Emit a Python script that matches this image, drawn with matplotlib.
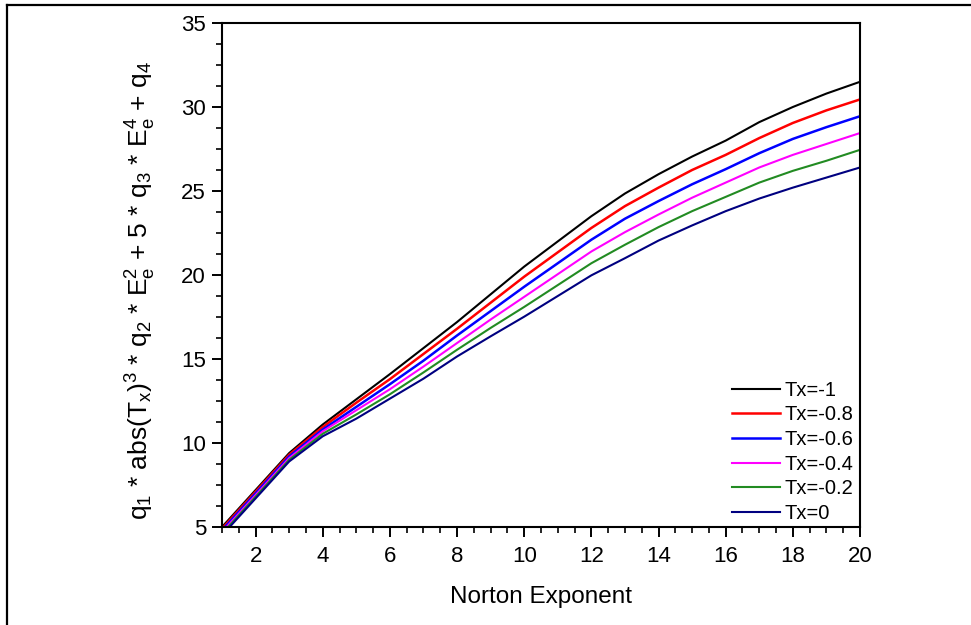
import numpy as np
import matplotlib
matplotlib.use("Agg")
import matplotlib.pyplot as plt
from matplotlib.ticker import MultipleLocator
from matplotlib.lines import Line2D

plt.rcParams['font.family'] = ['Liberation Sans', 'DejaVu Sans']
plt.rcParams['mathtext.fontset'] = 'custom'
plt.rcParams['mathtext.rm'] = 'Liberation Sans'
plt.rcParams['mathtext.it'] = 'Liberation Sans'
plt.rcParams['mathtext.bf'] = 'Liberation Sans:bold'

# Norton exponent
n_exp = [1, 2, 3, 4, 5, 6, 7, 8, 9, 10, 11, 12, 13, 14, 15, 16, 17, 18, 19, 20]

# curves, one per Tx value
tx_m10 = [5.0, 7.2, 9.4, 11.1, 12.6, 14.1, 15.65, 17.2, 18.85, 20.5,
          22.0, 23.5, 24.85, 26.0, 27.05, 28.0, 29.1, 30.0, 30.8, 31.5]
tx_m08 = [4.9, 7.1, 9.3, 10.95, 12.4, 13.8, 15.3, 16.8, 18.35, 19.9,
          21.35, 22.8, 24.1, 25.2, 26.25, 27.15, 28.15, 29.05, 29.8, 30.45]
tx_m06 = [4.8, 7.0, 9.2, 10.8, 12.15, 13.5, 14.9, 16.4, 17.85, 19.3,
          20.7, 22.1, 23.35, 24.4, 25.4, 26.3, 27.25, 28.1, 28.8, 29.45]
tx_m04 = [4.7, 6.9, 9.1, 10.7, 11.95, 13.2, 14.55, 15.95, 17.35, 18.7,
          20.05, 21.4, 22.55, 23.6, 24.6, 25.5, 26.4, 27.15, 27.8, 28.45]
tx_m02 = [4.6, 6.8, 9.0, 10.55, 11.7, 12.9, 14.2, 15.55, 16.85, 18.1,
          19.4, 20.7, 21.8, 22.85, 23.8, 24.65, 25.5, 26.2, 26.8, 27.45]
tx_0 = [4.5, 6.7, 8.9, 10.4, 11.45, 12.64, 13.83, 15.15, 16.35, 17.52,
        18.75, 19.98, 21.0, 22.05, 22.95, 23.8, 24.55, 25.2, 25.8, 26.4]

labels = ["Tx=-1", "Tx=-0.8", "Tx=-0.6", "Tx=-0.4", "Tx=-0.2", "Tx=0"]
series = [tx_m10, tx_m08, tx_m06, tx_m04, tx_m02, tx_0]
colors = ["black", "#ff0000", "#0000ff", "#ff00ff", "#228b22", "#000080"]
widths = [1.5, 1.8, 1.8, 1.5, 1.5, 1.5]

fig = plt.figure(figsize=(9.71, 6.25), dpi=100)
ax = fig.add_axes([222/971, 1-527/625, (860-222)/971, (527-23)/625])

for y, lab, c, lw in zip(series, labels, colors, widths):
    ax.plot(n_exp, y, color=c, lw=lw, label=lab)

ax.set_xlim(1, 20)
ax.set_ylim(5, 35)
ax.xaxis.set_major_locator(MultipleLocator(2))
ax.xaxis.set_minor_locator(MultipleLocator(0.5))
ax.yaxis.set_major_locator(MultipleLocator(5))
ax.yaxis.set_minor_locator(MultipleLocator(1.25))
ax.tick_params(which='major', direction='out', length=7.5, width=1.4, labelsize=16)
ax.tick_params(axis='x', which='major', pad=6)
ax.tick_params(axis='y', which='major', pad=4)
ax.tick_params(which='minor', direction='out', length=4, width=1.2)
ax.tick_params(top=False, right=False, which='both')
for s in ax.spines.values():
    s.set_linewidth(1.5)

ax.set_xlabel("Norton Exponent", fontsize=17.5, labelpad=14)
ax.set_ylabel("q$_1$ * abs(T$_x$)$^3$ * q$_2$ * E$_e^2$ + 5 * q$_3$ * E$_e^4$ + q$_4$",
              fontsize=19)
ax.yaxis.set_label_coords(-0.1, 0.47)

ax.legend(loc='lower right', bbox_to_anchor=(0.99, 0.008), frameon=False,
          fontsize=14.5, handlelength=2.35, handletextpad=0.25,
          labelspacing=0.28, borderpad=0, borderaxespad=0)

# outer frame of the original figure (left and top edges)
fig.add_artist(Line2D([7/971, 7/971], [0, 1-5/625], transform=fig.transFigure,
                      color='black', lw=1.6))
fig.add_artist(Line2D([7/971, 1], [1-5/625, 1-5/625], transform=fig.transFigure,
                      color='black', lw=1.6))

fig.savefig("out.png", dpi=100)
